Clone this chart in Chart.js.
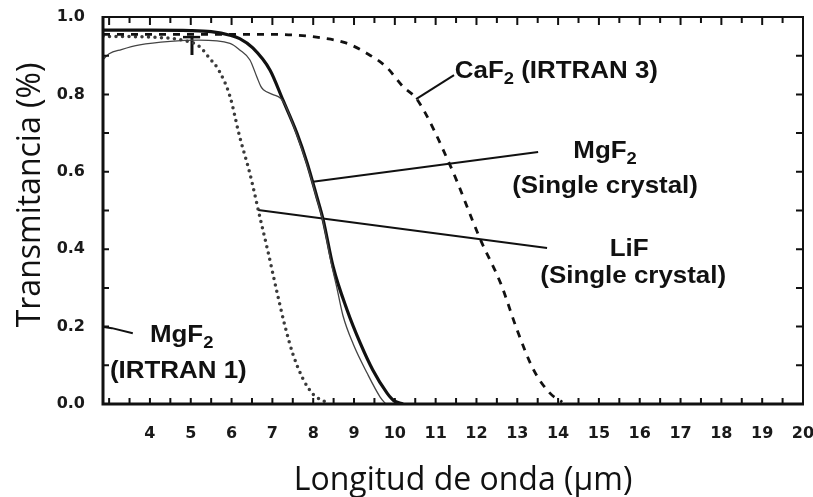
<!DOCTYPE html>
<html>
<head>
<meta charset="utf-8">
<script src="https://cdn.jsdelivr.net/npm/chart.js@4.4.1/dist/chart.umd.min.js"></script>
<style>
  html, body { margin: 0; padding: 0; background: #fff; overflow: hidden; }
  #wrap { width: 830px; height: 497px; }
</style>
</head>
<body>
<div id="wrap"><canvas id="chart" width="830" height="497"></canvas></div>
<script>
// axis ticks
const xTickLabels = [4, 5, 6, 7, 8, 9, 10, 11, 12, 13, 14, 15, 16, 17, 18, 19, 20];
const yTickLabels = [0.0, 0.2, 0.4, 0.6, 0.8, 1.0];

// CaF2 (IRTRAN 3) - dashed
const caf2Wave  = [2.85, 4, 5, 6, 7, 7.6, 8.2, 8.8, 9.3, 9.8, 10.2, 10.55, 11.35, 12.1, 12.6, 13.0, 13.4, 13.8, 14.1];
const caf2Trans = [0.955, 0.955, 0.955, 0.955, 0.955, 0.953, 0.946, 0.933, 0.907, 0.87, 0.82, 0.786, 0.618, 0.424, 0.31, 0.19, 0.088, 0.028, 0.005];

// MgF2 (single crystal) - thick solid
const mgf2CrystalWave  = [2.85, 4, 5, 5.5, 5.96, 6.2, 6.52, 6.94, 7.26, 7.6, 7.85, 8.09, 8.24, 8.49, 8.83, 9.15, 9.46, 9.81, 9.96, 10.2];
const mgf2CrystalTrans = [0.966, 0.966, 0.965, 0.962, 0.953, 0.944, 0.92, 0.863, 0.785, 0.70, 0.623, 0.535, 0.478, 0.354, 0.243, 0.158, 0.088, 0.028, 0.01, 0.0];

// LiF (single crystal) - thin solid
const lifWave  = [2.85, 3.0, 3.3, 3.75, 4.5, 5.2, 5.96, 6.2, 6.45, 6.62, 6.72, 6.78, 7.0, 7.2, 7.3, 7.6, 7.85, 8.09, 8.24, 8.45, 8.58, 8.73, 8.98, 9.32, 9.64, 9.78];
const lifTrans = [0.89, 0.905, 0.916, 0.928, 0.937, 0.94, 0.932, 0.915, 0.889, 0.845, 0.82, 0.812, 0.80, 0.79, 0.775, 0.695, 0.618, 0.53, 0.472, 0.36, 0.30, 0.228, 0.155, 0.08, 0.018, 0.0];

// MgF2 (IRTRAN 1) - dotted
const mgf2IrtranWave  = [2.85, 4.0, 4.8, 5.2, 5.45, 5.7, 5.96, 6.2, 6.45, 6.7, 6.9, 7.1, 7.3, 7.5, 7.75, 8.0, 8.3];
const mgf2IrtranTrans = [0.95, 0.948, 0.94, 0.925, 0.895, 0.86, 0.795, 0.69, 0.595, 0.48, 0.39, 0.295, 0.205, 0.13, 0.065, 0.025, 0.005];

// small "T" mark near 5 um
const markBarWave = [4.81, 5.23];
const markBarTrans = [0.948, 0.948];
const markStemWave = [5.03, 5.03];
const markStemTrans = [0.948, 0.902];

// leader lines from the labels to the curves
const caf2LeaderWave = [10.52, 11.45];
const caf2LeaderTrans = [0.788, 0.85];
const crystalLeaderWave = [7.99, 13.51];
const crystalLeaderTrans = [0.574, 0.651];
const lifLeaderWave = [6.65, 13.73];
const lifLeaderTrans = [0.501, 0.403];
const irtranLeaderWave = [2.87, 3.07, 3.58];
const irtranLeaderTrans = [0.199, 0.196, 0.183];

function pts(xs, ys) {
    return xs.map((x, i) => ({ x: x, y: ys[i] }));
}

function lineSet(xs, ys, extra) {
    return Object.assign({
        data: pts(xs, ys),
        borderColor: '#111',
        borderWidth: 2,
        pointRadius: 0,
        fill: false,
        tension: 0
    }, extra || {});
}

const labelFont = '"Liberation Sans", Arial, sans-serif';

function drawChem(ctx, parts, x, y, align) {
    const sx = 1.08;
    let w = 0;
    parts.forEach(p => {
        ctx.font = p[1] ? 'bold 17px ' + labelFont : 'bold 24px ' + labelFont;
        w += ctx.measureText(p[0]).width;
    });
    let start = align === 'center' ? x - w * sx / 2 : x;
    ctx.save();
    ctx.translate(start, y);
    ctx.scale(sx, 1);
    ctx.textAlign = 'left';
    ctx.textBaseline = 'alphabetic';
    let cx = 0;
    parts.forEach(p => {
        ctx.font = p[1] ? 'bold 17px ' + labelFont : 'bold 24px ' + labelFont;
        ctx.fillText(p[0], cx, p[1] ? 6 : 0);
        cx += ctx.measureText(p[0]).width;
    });
    ctx.restore();
}

const framePlugin = {
    id: 'frame',
    afterDraw(chart) {
        const ctx = chart.ctx;
        const a = chart.chartArea;
        const xs = chart.scales.x;
        const ys = chart.scales.y;
        ctx.save();
        ctx.strokeStyle = '#111';
        ctx.lineCap = 'butt';

        // inward tick marks
        ctx.lineWidth = 2;
        ctx.beginPath();
        for (let v = 3; v < 20; v += 0.5) {
            const px = xs.getPixelForValue(v);
            ctx.moveTo(px, a.bottom); ctx.lineTo(px, a.bottom - 6);
            ctx.moveTo(px, a.top); ctx.lineTo(px, a.top + (v % 1 === 0 ? 8 : 6));
        }
        for (let k = 1; k < 10; k++) {
            const py = ys.getPixelForValue(k / 10);
            ctx.moveTo(a.left, py); ctx.lineTo(a.left + 6, py);
            ctx.moveTo(a.right, py); ctx.lineTo(a.right - 7, py);
        }
        ctx.stroke();

        // box
        ctx.lineWidth = 2;
        ctx.beginPath();
        ctx.moveTo(a.left, a.top); ctx.lineTo(a.right, a.top); ctx.lineTo(a.right, a.bottom);
        ctx.stroke();
        ctx.lineWidth = 3;
        ctx.beginPath();
        ctx.moveTo(a.left, a.top - 1); ctx.lineTo(a.left, a.bottom); ctx.lineTo(a.right + 1, a.bottom);
        ctx.stroke();

        // labels on the curves
        ctx.fillStyle = '#111';
        drawChem(ctx, [['CaF', 0], ['2', 1], [' (IRTRAN 3)', 0]], xs.getPixelForValue(11.47), ys.getPixelForValue(0.842), 'left');
        drawChem(ctx, [['MgF', 0], ['2', 1]], xs.getPixelForValue(15.15), ys.getPixelForValue(0.636), 'center');
        drawChem(ctx, [['(Single crystal)', 0]], xs.getPixelForValue(15.15), ys.getPixelForValue(0.545), 'center');
        drawChem(ctx, [['LiF', 0]], xs.getPixelForValue(15.74), ys.getPixelForValue(0.382), 'center');
        drawChem(ctx, [['(Single crystal)', 0]], xs.getPixelForValue(15.84), ys.getPixelForValue(0.313), 'center');
        drawChem(ctx, [['MgF', 0], ['2', 1]], xs.getPixelForValue(4.0), ys.getPixelForValue(0.16), 'left');
        drawChem(ctx, [['(IRTRAN 1)', 0]], xs.getPixelForValue(3.02), ys.getPixelForValue(0.067), 'left');

        // axis titles
        ctx.fillStyle = '#111';
        ctx.font = '32px "Open Sans", sans-serif';
        ctx.textAlign = 'center';
        ctx.textBaseline = 'alphabetic';
        ctx.fillText('Longitud de onda (µm)', 463, 490);
        ctx.translate(40, 195);
        ctx.rotate(-Math.PI / 2);
        ctx.fillText('Transmitancia (%)', 0, 0);
        ctx.restore();
    }
};

const tickFont = { family: 'DejaVu Sans', weight: 'bold', size: 16 };

new Chart(document.getElementById('chart').getContext('2d'), {
    type: 'line',
    data: {
        datasets: [
            lineSet(caf2Wave, caf2Trans, { borderWidth: 2.8, borderDash: [7, 7], cubicInterpolationMode: 'monotone' }),
            lineSet(mgf2IrtranWave, mgf2IrtranTrans, { borderColor: '#3a3a3a', borderWidth: 3.5, borderDash: [0, 6.5], borderCapStyle: 'round', cubicInterpolationMode: 'monotone' }),
            lineSet(lifWave, lifTrans, { borderColor: '#444', borderWidth: 1.3, cubicInterpolationMode: 'monotone' }),
            lineSet(mgf2CrystalWave, mgf2CrystalTrans, { borderWidth: 3.2, cubicInterpolationMode: 'monotone' }),
            lineSet(markBarWave, markBarTrans, { borderWidth: 2.5 }),
            lineSet(markStemWave, markStemTrans, { borderWidth: 3 }),
            lineSet(caf2LeaderWave, caf2LeaderTrans),
            lineSet(crystalLeaderWave, crystalLeaderTrans),
            lineSet(lifLeaderWave, lifLeaderTrans),
            lineSet(irtranLeaderWave, irtranLeaderTrans)
        ]
    },
    options: {
        responsive: false,
        animation: false,
        devicePixelRatio: 1,
        layout: { padding: { top: 17, right: 27, left: 0, bottom: 0 } },
        plugins: { legend: { display: false }, tooltip: { enabled: false } },
        scales: {
            x: {
                type: 'linear',
                min: 2.85,
                max: 20,
                // ticks are drawn by the frame plugin; tickLength only spaces the labels
                grid: { display: false, drawTicks: true, tickLength: 20 },
                border: { display: false },
                afterBuildTicks: s => { s.ticks = xTickLabels.map(v => ({ value: v })); },
                afterFit: s => { s.height = 93; },
                ticks: {
                    autoSkip: false,
                    maxRotation: 0,
                    padding: 0,
                    color: '#1a1a1a',
                    font: tickFont,
                    callback: v => String(v)
                }
            },
            y: {
                type: 'linear',
                min: 0,
                max: 1,
                grid: { display: false, drawTicks: true, tickLength: 18 },
                border: { display: false },
                afterBuildTicks: s => { s.ticks = yTickLabels.map(v => ({ value: v })); },
                afterFit: s => { s.width = 103; },
                ticks: {
                    padding: 0,
                    color: '#1a1a1a',
                    font: tickFont,
                    callback: v => Number(v).toFixed(1)
                }
            }
        }
    },
    plugins: [framePlugin]
});
</script>
</body>
</html>
